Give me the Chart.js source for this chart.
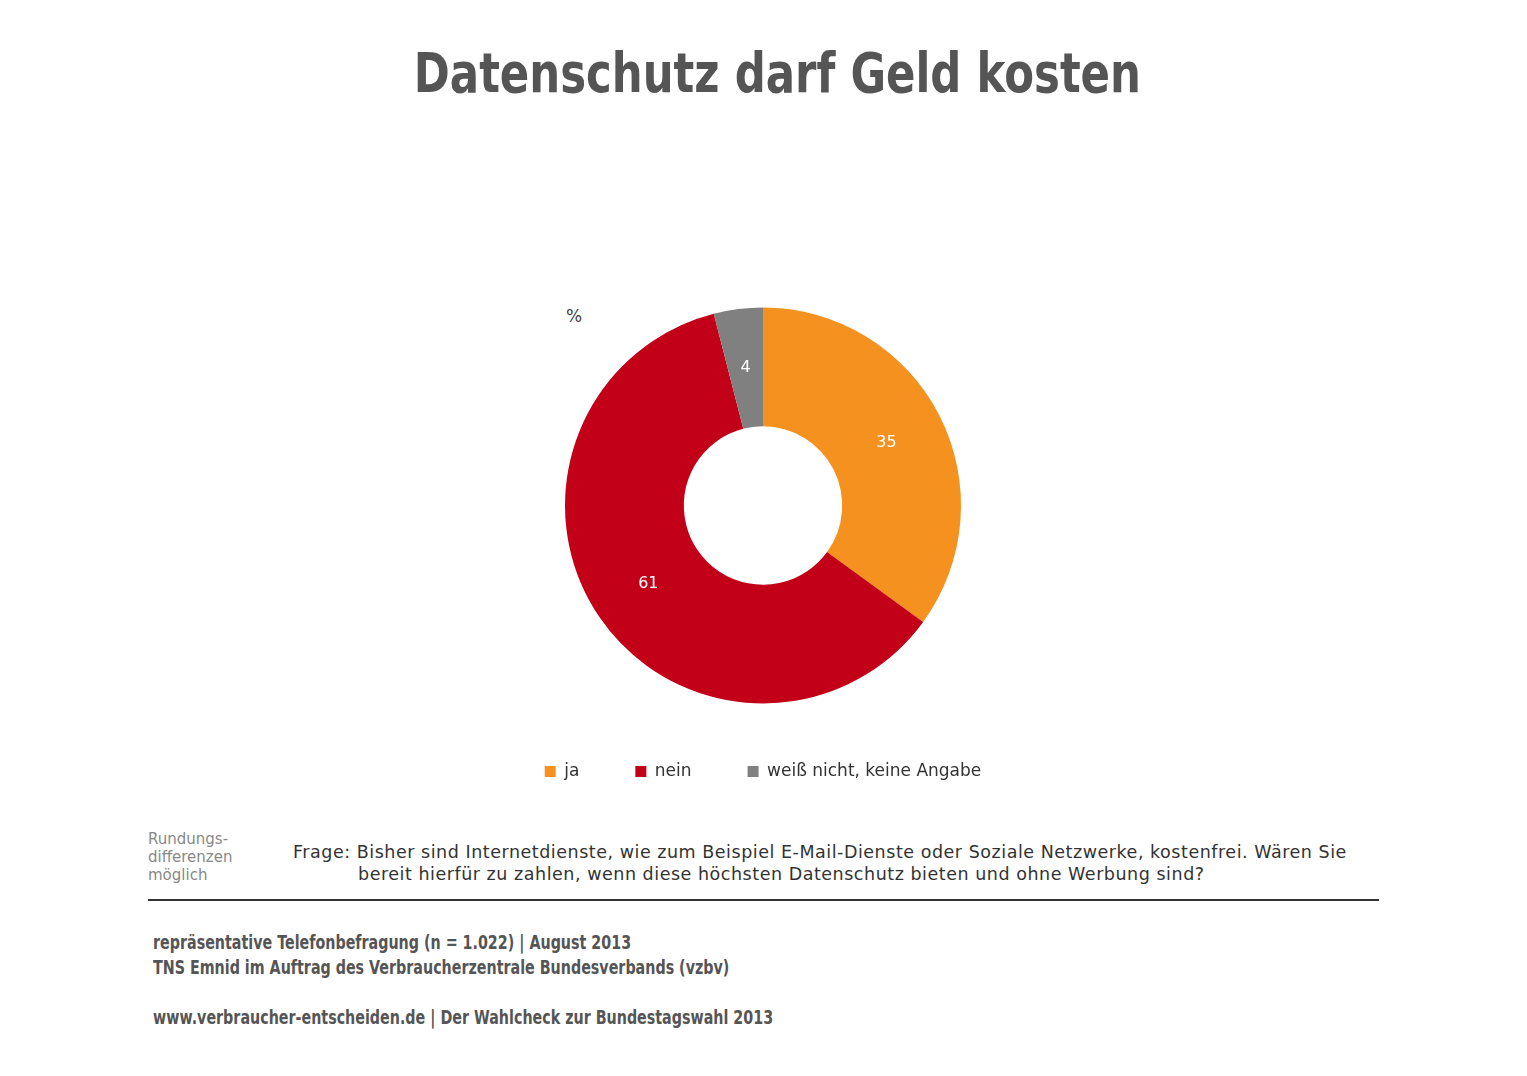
<!DOCTYPE html>
<html>
<head>
<meta charset="utf-8">
<script src="https://cdn.jsdelivr.net/npm/chart.js@4"></script>
<style>
  body { margin: 0; background: #fff; width: 1527px; height: 1076px; position: relative; overflow: hidden; font-family: "DejaVu Sans", sans-serif; }
  .abs { position: absolute; }
  #title { left: 0; width: 1555px; top: 40px; text-align: center; font-family: "DejaVu Sans", sans-serif; font-weight: bold; font-size: 56px; color: #555; transform: scaleX(0.775); transform-origin: 777px 0; }
  #pct { left: 566px; top: 306px; font-size: 17px; color: #444; }
  #wrap { left: 363px; top: 304px; width: 800px; height: 486px; }
  #round { left: 148px; top: 830px; font-size: 15px; color: #888; line-height: 18px; }
  #frage { left: 293px; top: 841px; font-size: 17.5px; color: #333; line-height: 22px; letter-spacing: 0.53px; }
  #rule { left: 148px; top: 899px; width: 1231px; height: 2px; background: #333; }
  .src { left: 153px; font-family: "DejaVu Sans", sans-serif; font-weight: bold; font-size: 20px; color: #555; transform: scaleX(0.714); transform-origin: 0 0; white-space: nowrap; }
</style>
</head>
<body>
<div id="title" class="abs">Datenschutz darf Geld kosten</div>
<div id="pct" class="abs">%</div>
<div id="wrap" class="abs"><canvas id="myCanvas"></canvas></div>
<div id="round" class="abs">Rundungs-<br>differenzen<br>möglich</div>
<div id="frage" class="abs">Frage: Bisher sind Internetdienste, wie zum Beispiel E-Mail-Dienste oder Soziale Netzwerke, kostenfrei. Wären Sie<br><span style="padding-left:65px">bereit hierfür zu zahlen, wenn diese höchsten Datenschutz bieten und ohne Werbung sind?</span></div>
<div id="rule" class="abs"></div>
<div class="abs src" style="top:930px">repräsentative Telefonbefragung (n = 1.022) | August 2013</div>
<div class="abs src" style="top:955px">TNS Emnid im Auftrag des Verbraucherzentrale Bundesverbands (vzbv)</div>
<div class="abs src" style="top:1005px">www.verbraucher-entscheiden.de | Der Wahlcheck zur Bundestagswahl 2013</div>
<script>
const categories = ["ja", "nein", "weiß nicht, keine Angabe"];
const values = [35, 61, 4];
const colors = ["#f5911e", "#c20018", "#808080"];

const sliceLabels = {
  id: "sliceLabels",
  afterDatasetsDraw(chart) {
    const ctx = chart.ctx;
    ctx.save();
    ctx.fillStyle = "#fff";
    ctx.font = "16px 'DejaVu Sans'";
    ctx.textAlign = "center";
    ctx.textBaseline = "middle";
    chart.getDatasetMeta(0).data.forEach((arc, i) => {
      const p = arc.tooltipPosition();
      ctx.fillText(values[i], p.x, p.y);
    });
    ctx.restore();
  }
};

new Chart(document.getElementById("myCanvas"), {
  type: "doughnut",
  data: {
    labels: categories,
    datasets: [{ data: values, backgroundColor: colors, borderWidth: 0, radius: 198, cutout: "40%" }]
  },
  options: {
    responsive: true,
    maintainAspectRatio: false,
    animation: false,
    plugins: {
      tooltip: { enabled: false },
      legend: {
        position: "bottom",
        labels: { boxWidth: 11, boxHeight: 11, padding: 56, color: "#333", font: { family: "DejaVu Sans", size: 17 } }
      }
    }
  },
  plugins: [sliceLabels]
});
</script>
</body>
</html>
